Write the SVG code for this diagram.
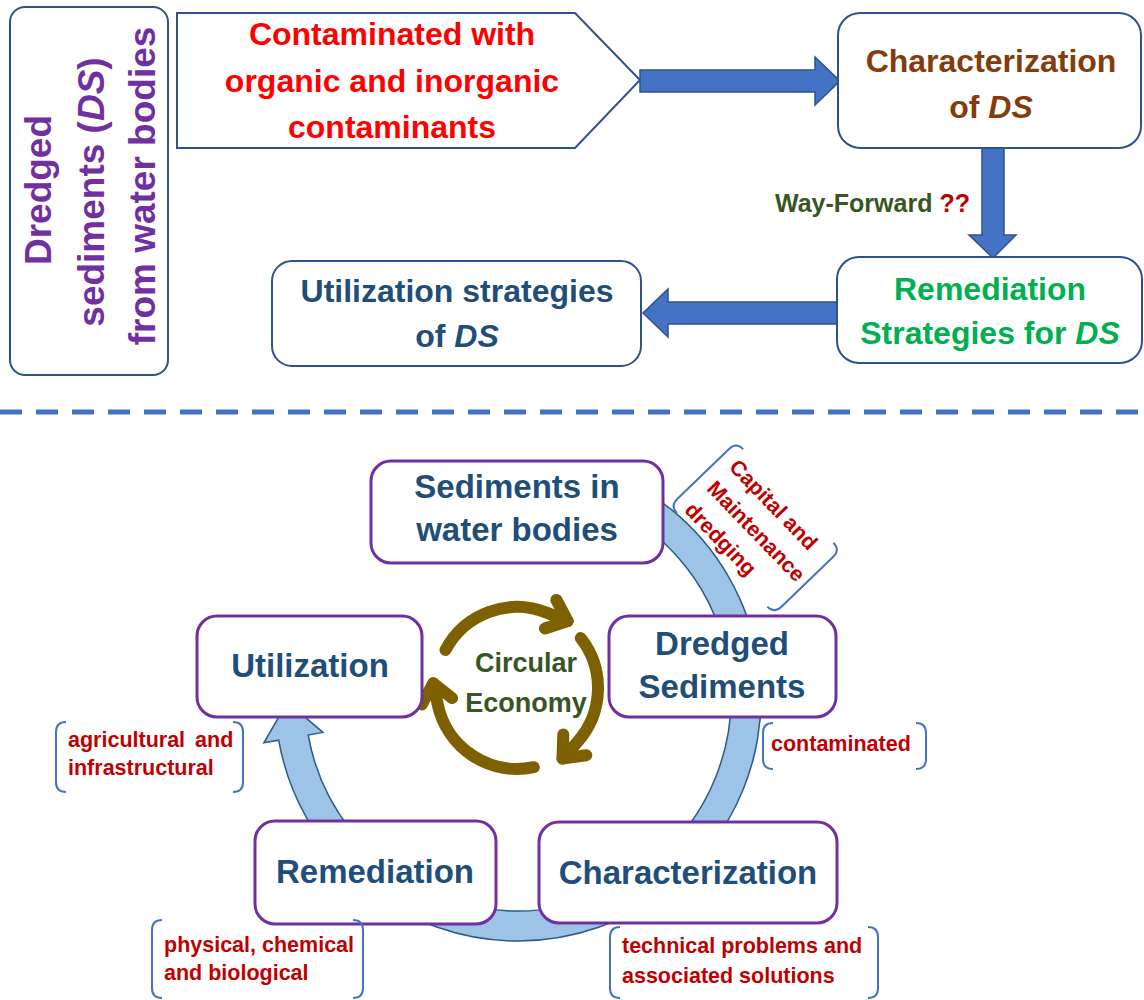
<svg xmlns="http://www.w3.org/2000/svg" width="1144" height="1000" viewBox="0 0 1144 1000">
<style>
text { font-family: "Liberation Sans", Arial, sans-serif; font-weight: bold; }
.topbox { fill: #ffffff; stroke: #2F528F; stroke-width: 2; }
.node { fill: #ffffff; stroke: #7030A0; stroke-width: 3; }
.blk { fill: #4472C4; stroke: #2F528F; stroke-width: 1.5; }
.band { fill: #9DC3E6; stroke: #2E5A88; stroke-width: 1.5; }
.ring { fill: none; stroke: #7F6000; stroke-width: 12; stroke-linecap: round; stroke-linejoin: round; }
.brk { fill: none; stroke: #4472C4; stroke-width: 2; }
.lbl { font-size: 33px; fill: #1F4E79; text-anchor: middle; }
.ann { font-size: 21.5px; fill: #C00000; }
.it { font-style: italic; }
</style>

<line x1="0" y1="412" x2="1144" y2="412" stroke="#4472C4" stroke-width="5" stroke-dasharray="22 14"/>

<g id="connectors">
  <path class="blk" d="M640,70 L815,70 L815,57 L840,81 L815,105 L815,92 L640,92 Z"/>
  <path class="blk" d="M982,148 L1004,148 L1004,235 L1016,235 L993,258 L969,235 L982,235 Z"/>
  <path class="blk" d="M837,302 L668,302 L668,289 L643,313 L668,337 L668,324 L837,324 Z"/>
  <path class="band" d="M601.1,469.7 A243,243 0 1 1 278.7,740.2 L263.9,742.8 L287.3,702.1 L323,732.4 L308.2,735 A213,213 0 1 0 590.8,497.8 Z"/>
  <g id="circular-economy-arrows">
    <path class="ring" d="M445.5,650 A81,81 0 0 1 547.3,612.9 L567.7,621.1"/>
    <path class="ring" d="M556.4,599.9 L567.7,621.1 L544.9,628.5"/>
    <path class="ring" d="M580.8,638.1 A81,81 0 0 1 577.2,742.2 L562.5,758.5"/>
    <path class="ring" d="M586.3,755.2 L562.5,758.5 L563.3,734.5"/>
    <path class="ring" d="M533.8,767.2 A81,81 0 0 1 437.8,704.8 L433.2,683.3"/>
    <path class="ring" d="M421.9,704.5 L433.2,683.3 L452.1,698.1"/>
  </g>
</g>

<g id="ds-title">
  <rect class="topbox" x="10" y="7" width="158" height="368" rx="15"/>
  <g transform="rotate(-90)" fill="#7030A0" font-size="37" text-anchor="middle">
    <text x="-190" y="51" fill="#7030A0">Dredged</text>
    <text x="-192" y="104" fill="#7030A0">sediments (<tspan class="it">DS</tspan>)</text>
    <text x="-186" y="155" fill="#7030A0">from water bodies</text>
  </g>
</g>

<g id="contaminated">
  <path class="topbox" stroke-width="1.5" d="M177,13 L575,13 L640,80 L575,148 L177,148 Z"/>
  <g font-size="32" fill="#FF0000" text-anchor="middle">
    <text x="392" y="45" fill="#FF0000">Contaminated with</text>
    <text x="392" y="92" fill="#FF0000">organic and inorganic</text>
    <text x="392" y="138" fill="#FF0000">contaminants</text>
  </g>
</g>

<g id="characterization-top">
  <rect class="topbox" x="838" y="13" width="303" height="135" rx="22"/>
  <text x="991" y="72" font-size="32" fill="#843C0C" text-anchor="middle">Characterization</text>
  <text x="991" y="118" font-size="32" fill="#843C0C" text-anchor="middle">of <tspan class="it">DS</tspan></text>
</g>

<text x="775" y="212" font-size="25" fill="#375623">Way-Forward <tspan fill="#C00000">??</tspan></text>

<g id="remediation-top">
  <rect class="topbox" x="837" y="257" width="305" height="106" rx="22"/>
  <text x="990" y="300" font-size="32" fill="#00B050" text-anchor="middle">Remediation</text>
  <text x="990" y="344" font-size="32" fill="#00B050" text-anchor="middle">Strategies for <tspan class="it">DS</tspan></text>
</g>

<g id="utilization-top">
  <rect class="topbox" x="272" y="261" width="369" height="105" rx="20"/>
  <text x="457" y="302" font-size="32" fill="#1F4E79" text-anchor="middle">Utilization strategies</text>
  <text x="457" y="347" font-size="32" fill="#1F4E79" text-anchor="middle">of <tspan class="it">DS</tspan></text>
</g>

<g id="sediments">
  <rect class="node" x="371" y="461" width="292" height="102" rx="20"/>
  <text class="lbl" x="517" y="498">Sediments in</text>
  <text class="lbl" x="517" y="541">water bodies</text>
</g>

<g id="dredged-sediments">
  <rect class="node" x="609" y="616" width="227" height="101" rx="20"/>
  <text class="lbl" x="722" y="655">Dredged</text>
  <text class="lbl" x="722" y="698">Sediments</text>
</g>

<g id="utilization">
  <rect class="node" x="197" y="616" width="225" height="101" rx="20"/>
  <text class="lbl" x="310" y="677">Utilization</text>
</g>

<g id="remediation">
  <rect class="node" x="255" y="821" width="241" height="103" rx="20"/>
  <text class="lbl" x="375" y="883">Remediation</text>
</g>

<g id="characterization">
  <rect class="node" x="539" y="822" width="298" height="101" rx="20"/>
  <text class="lbl" x="688" y="884">Characterization</text>
</g>

<g id="circular-economy">
  <text x="526" y="672" font-size="27" fill="#375623" text-anchor="middle">Circular</text>
  <text x="526" y="712" font-size="27" fill="#375623" text-anchor="middle">Economy</text>
</g>

<g id="note-dredging" transform="translate(728,468) rotate(46)">
  <path class="brk" d="M-3,-24 Q-13,-24 -13,-14 L-13,58 Q-13,68 -3,68"/>
  <path class="brk" d="M127,-24 Q137,-24 137,-14 L137,58 Q137,68 127,68"/>
  <text class="ann" x="0" y="0">Capital and</text>
  <text class="ann" x="0" y="31">Maintenance</text>
  <text class="ann" x="0" y="62">dredging</text>
</g>

<g id="note-contaminated">
  <path class="brk" d="M773,723 Q763,723 763,733 L763,759 Q763,769 773,769"/>
  <path class="brk" d="M916,723 Q926,723 926,733 L926,759 Q926,769 916,769"/>
  <text class="ann" x="771" y="751">contaminated</text>
</g>

<g id="note-utilization">
  <path class="brk" d="M66,722 Q56,722 56,732 L56,782 Q56,792 66,792"/>
  <path class="brk" d="M233,722 Q243,722 243,732 L243,782 Q243,792 233,792"/>
  <text class="ann" x="68" y="747" word-spacing="4">agricultural and</text>
  <text class="ann" x="68" y="775">infrastructural</text>
</g>

<g id="note-remediation">
  <path class="brk" d="M162,920 Q152,920 152,930 L152,988 Q152,998 162,998"/>
  <path class="brk" d="M353,920 Q363,920 363,930 L363,988 Q363,998 353,998"/>
  <text class="ann" x="164" y="952">physical, chemical</text>
  <text class="ann" x="164" y="980">and biological</text>
</g>

<g id="note-characterization">
  <path class="brk" d="M620,927 Q610,927 610,937 L610,988 Q610,998 620,998"/>
  <path class="brk" d="M868,927 Q878,927 878,937 L878,988 Q878,998 868,998"/>
  <text class="ann" x="622" y="953">technical problems and</text>
  <text class="ann" x="622" y="983">associated solutions</text>
</g>
</svg>
